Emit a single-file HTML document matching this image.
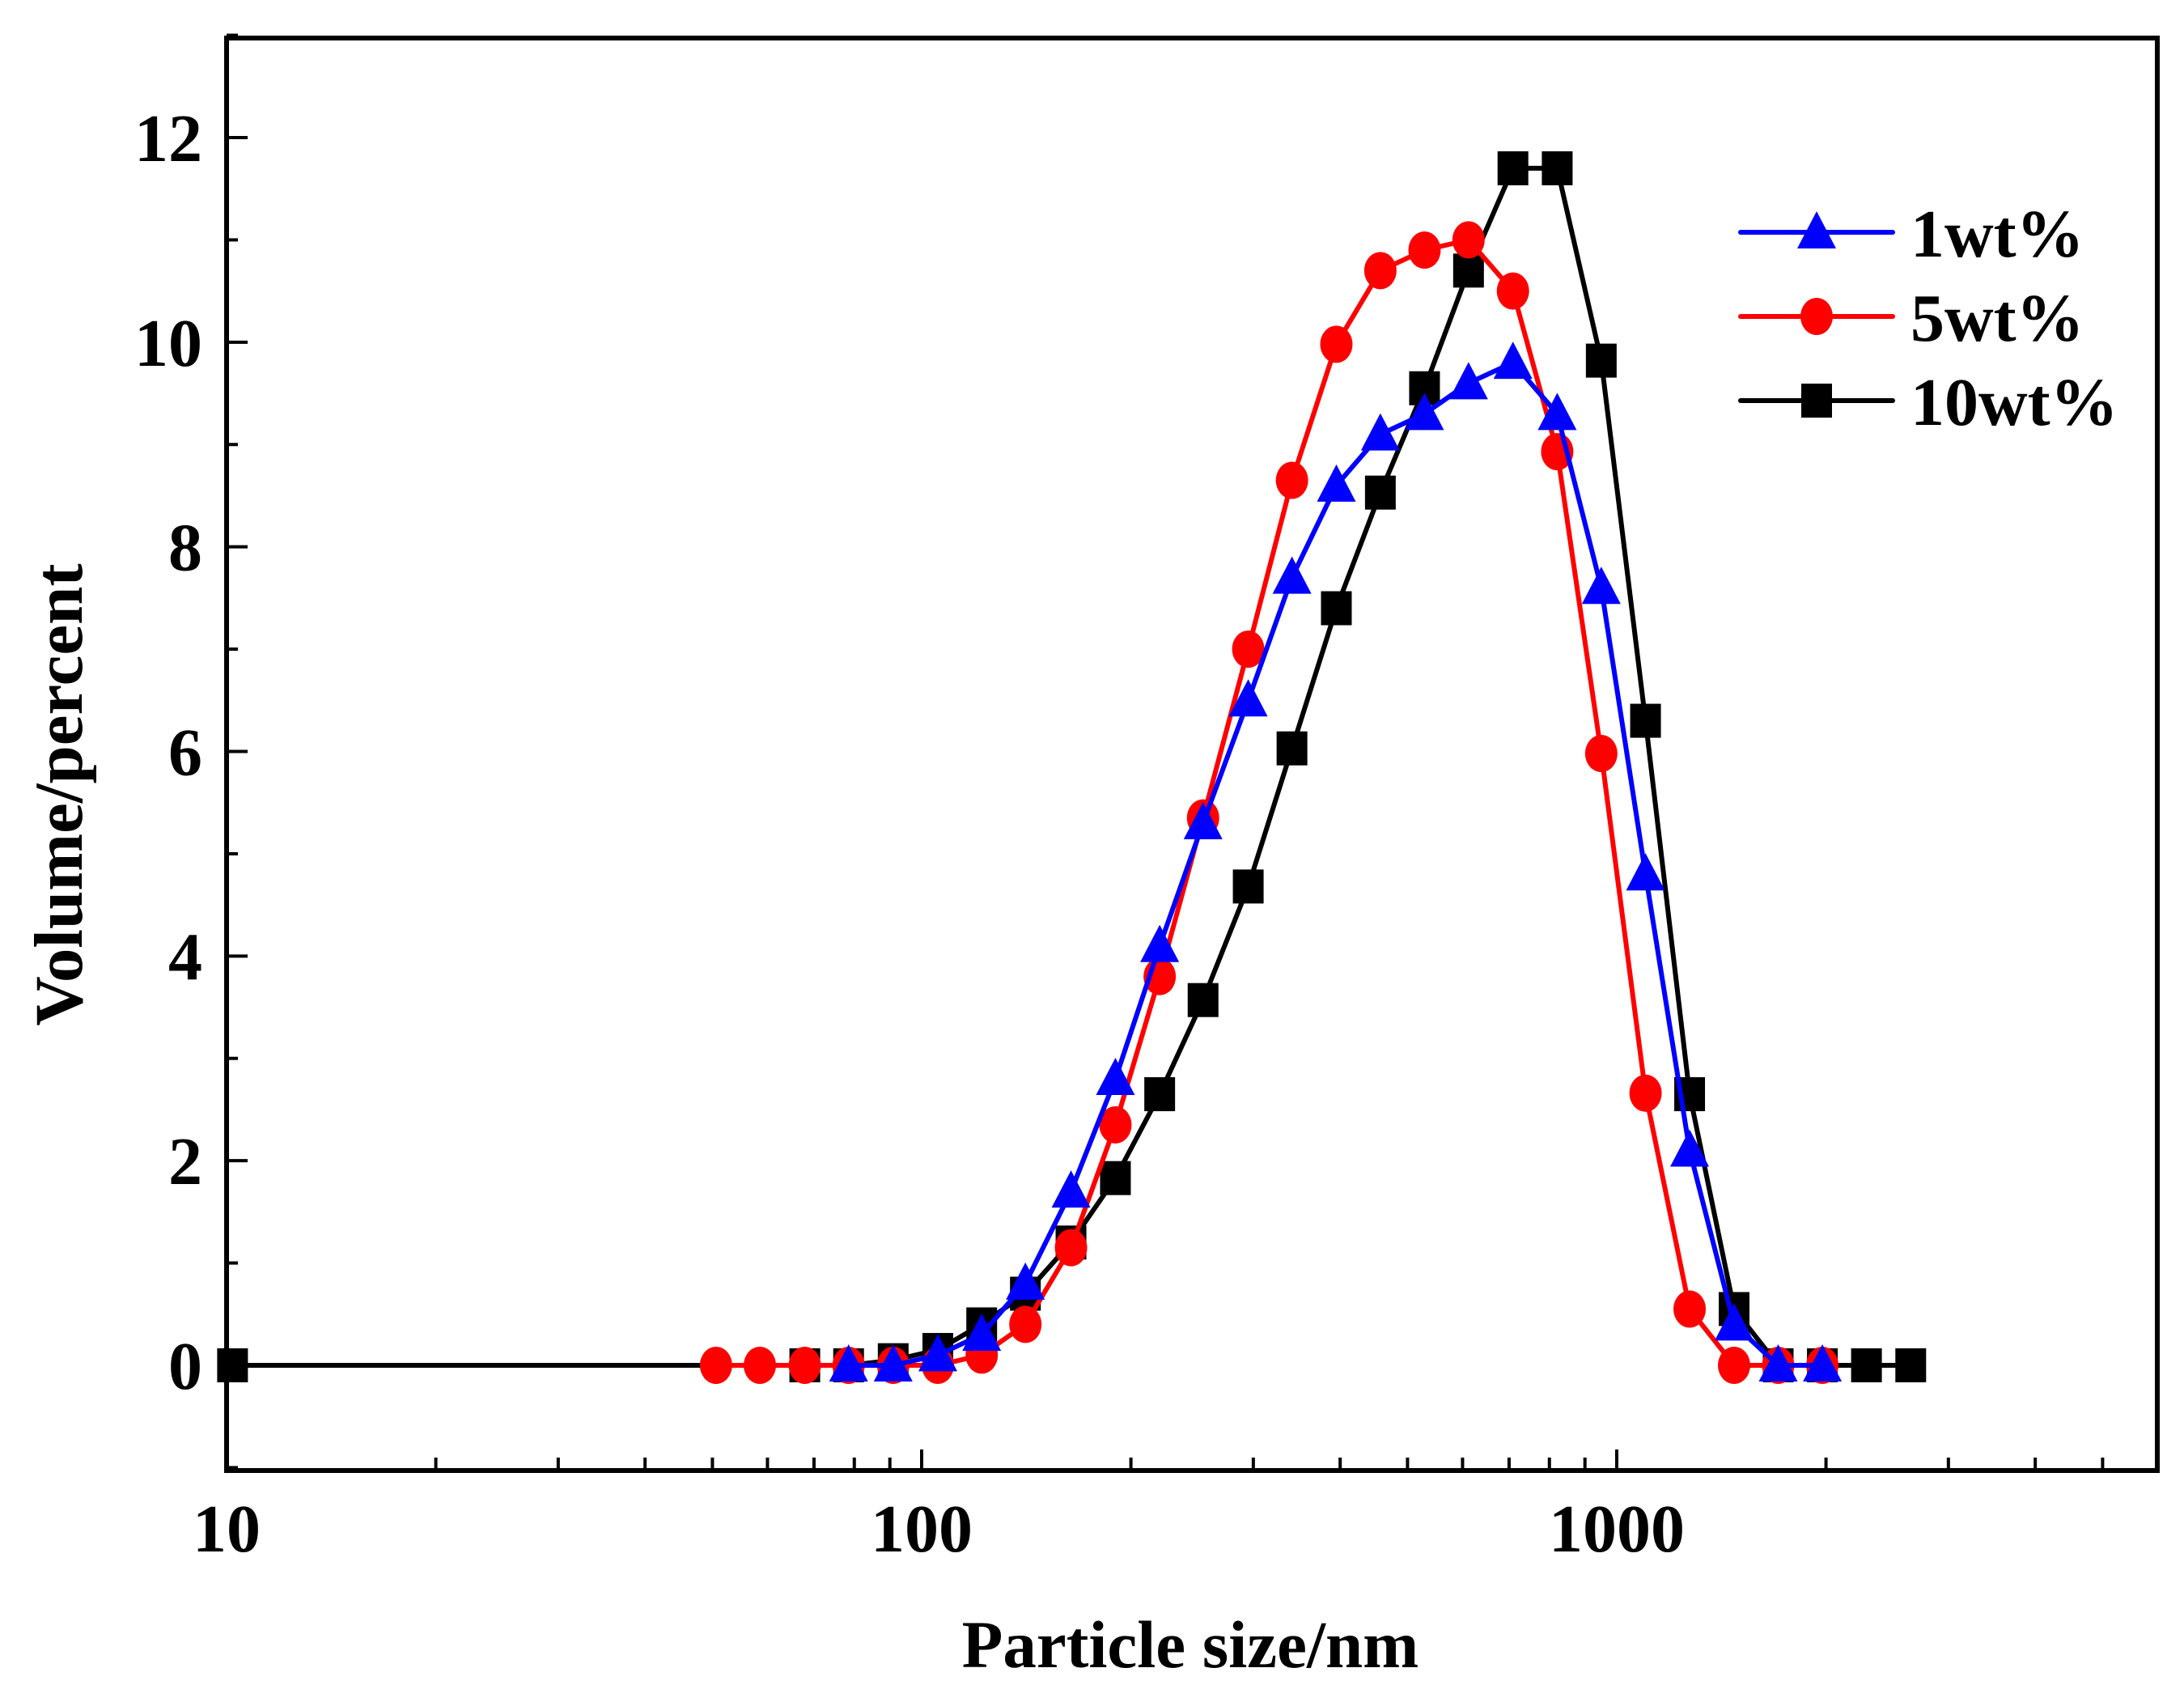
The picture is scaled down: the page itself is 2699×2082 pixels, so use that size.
<!DOCTYPE html>
<html><head><meta charset="utf-8"><style>
html,body{margin:0;padding:0;background:#fff;}
svg{display:block;font-family:"Liberation Serif",serif;font-weight:bold;}
</style></head><body>
<svg id="chart" width="2699" height="2082" viewBox="0 0 2699 2082">
<g id="plot"></g>
</svg>
<script>
const seriesNames=["1wt%","5wt%","10wt%"];
const xBlue=[78.5,91.0,105.5,122,141,164,190,220,254,295,341,395,457,529,612,709,821,950,1100,1273,1475,1707,1976];
const yBlue=[0,0,0.1,0.3,0.8,1.7,2.8,4.1,5.3,6.5,7.7,8.6,9.1,9.3,9.6,9.8,9.3,7.6,4.8,2.1,0.4,0,0];
const xRed=[50.6,58.5,67.9,78.5,91.0,105.5,122,141,164,190,220,254,295,341,395,457,529,612,709,821,950,1100,1273,1475,1707,1976];
const yRed=[0,0,0,0,0,0,0.1,0.4,1.15,2.35,3.8,5.35,7.0,8.65,9.98,10.7,10.9,11.0,10.5,8.93,5.98,2.66,0.55,0,0,0];
const xBlack=[10.2,67.9,78.5,91.0,105.5,122,141,164,190,220,254,295,341,395,457,529,612,709,821,950,1100,1273,1475,1707,1976,2287,2648];
const yBlack=[0,0,0,0.05,0.15,0.4,0.7,1.2,1.83,2.65,3.57,4.68,6.03,7.4,8.53,9.55,10.7,11.7,11.7,9.82,6.3,2.65,0.55,0,0,0,0];
const yTicks=[0,2,4,6,8,10,12];
const xTickLabels=[10,100,1000];

const NS="http://www.w3.org/2000/svg";
const g=document.getElementById('plot');
const L=280,R=2666,T=47,B=1817;
const dec=859;
function sx(v){return L+(Math.log10(v)-1)*dec;}
const y0=1687,y12=170;
function sy(v){return y0+(y12-y0)*v/12;}
function mk(tag,attrs,parent){const e=document.createElementNS(NS,tag);for(const k in attrs)e.setAttribute(k,attrs[k]);(parent||g).appendChild(e);return e;}

let fr=mk('rect',{x:L,y:T,width:R-L,height:B-T,fill:'none',stroke:'#000','stroke-width':6});



for(let v=-1;v<=13;v++){
  const major=v%2===0;
  const t=mk('line',{x1:L,x2:L+(major?26:14),y1:sy(v),y2:sy(v),stroke:'#000','stroke-width':4});
  
  
}
yTicks.forEach(v=>{
  const t=mk('text',{x:L-30,y:sy(v)+29,'text-anchor':'end','font-size':84});
  t.textContent=v;
  
  
});
for(let d=10;d<=1000;d*=10){
  for(let m=1;m<=9;m++){
    const v=d*m; if(v<10||sx(v)>R)continue;
    const major=m===1;
    const t=mk('line',{x1:sx(v),x2:sx(v),y1:B,y2:B-(major?26:16),stroke:'#000','stroke-width':4});
    
    
  }
}
xTickLabels.forEach(v=>{
  const t=mk('text',{x:sx(v),y:B+100,'text-anchor':'middle','font-size':84});
  t.textContent=v;
  
  
});
let xt=mk('text',{x:1471,y:2060,'text-anchor':'middle','font-size':83});
xt.textContent='Particle size/nm';


let yt=mk('text',{x:0,y:0,'text-anchor':'middle','font-size':85,transform:'translate(101,982) rotate(-90)'});
yt.textContent='Volume/percent';



function marker(type,cx,cy,color,parent){
  let e;
  if(type==='tri') e=mk('polygon',{points:`${cx},${cy-26} ${cx+24},${cy+20} ${cx-24},${cy+20}`,fill:color},parent);
  else if(type==='circ') e=mk('ellipse',{cx:cx,cy:cy,rx:20,ry:23,fill:color},parent);
  else e=mk('rect',{x:cx-19,y:cy-21,width:38,height:42,fill:color},parent);
  return e;
}
function series(xs,ys,color,type,name){
  const sg=mk('g',{});
  
  
  const pts=xs.map((x,i)=>sx(x)+','+sy(ys[i])).join(' ');
  const pl=mk('polyline',{points:pts,fill:'none',stroke:color,'stroke-width':6,'stroke-linejoin':'round'},sg);
  
  
  xs.forEach((x,i)=>{
    const m=marker(type,sx(x),sy(ys[i]),color,sg);
    
    
  });
}
series(xBlack,yBlack,'#000','sq','series-10wt');
series(xRed,yRed,'#ff0000','circ','series-5wt');
series(xBlue,yBlue,'#0000ff','tri','series-1wt');

const lg=mk('g',{});


const legColors=['#0000ff','#ff0000','#000'];
const legTypes=['tri','circ','sq'];
const legY=[287,391,495];
seriesNames.forEach((n,i)=>{
  const eg=mk('g',{},lg);
  
  
  mk('line',{x1:2151,x2:2339,y1:legY[i],y2:legY[i],stroke:legColors[i],'stroke-width':6,'stroke-linecap':'round'},eg);
  marker(legTypes[i],2245,legY[i],legColors[i],eg);
  const t=mk('text',{x:2361,y:legY[i]+30,'font-size':84},eg);
  t.textContent=n;
});
</script>
</body></html>
